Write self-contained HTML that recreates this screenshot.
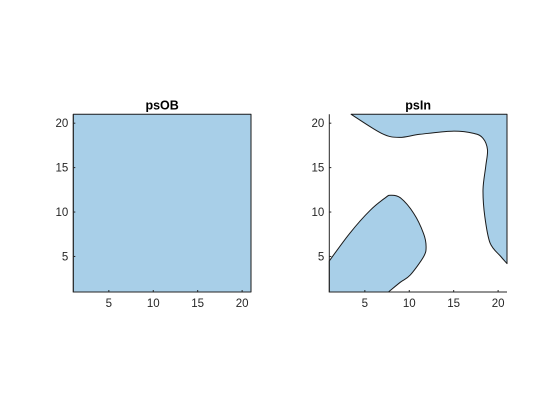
<!DOCTYPE html>
<html><head><meta charset="utf-8"><style>
body{margin:0;background:#fff;}
svg{display:block;font-family:"Liberation Sans",Arial,sans-serif;}
</style></head><body>
<svg id="chart" width="560" height="420"></svg>
<script>
const xTicks=[5,10,15,20];
const yTicks=[5,10,15,20];
const psOBx=[1,21,21,1];
const psOBy=[1,1,21,21];
const topShapeX=[3.45,6.9,8.9,11.2,14.8,17.25,18.3,18.8,18.6,18.3,18.5,19.1,20.3,21,21];
const topShapeY=[21,18.85,18.4,18.75,19.1,18.85,18.3,17,15.1,12.5,9.5,6.5,5,4.2,21];
const botShapeX=[1,3.3,5.6,7.3,7.9,9,10.5,11.6,11.9,11.6,10.1,9,7.65,1];
const botShapeY=[4.5,7.6,10.2,11.6,11.9,11.6,9.85,7.6,6.1,4.95,2.9,2.1,1,1];
const NS='http://www.w3.org/2000/svg';
const svg=document.getElementById('chart');
function mk(t,a,p){const e=document.createElementNS(NS,t);for(const k in a)e.setAttribute(k,a[k]);(p||svg).appendChild(e);return e;}
function axes(x0,x1,y0,y1,title,name){
  const g=mk('g',{});
  
  
  const sx=v=>x0+(v-1)/20*(x1-x0), sy=v=>y1-(v-1)/20*(y1-y0);
  return {g,sx,sy,x0,x1,y0,y1,title};
}
function onEdge(x1,y1,x2,y2){
  return (x1===x2&&(x1===1||x1===21))||(y1===y2&&(y1===1||y1===21));
}
function shape(ax,xs,ys,name){
  const n=xs.length;
  const P=xs.map((v,i)=>[ax.sx(v),ax.sy(ys[i])]);
  let d='M'+P[0][0].toFixed(1)+','+P[0][1].toFixed(1);
  for(let i=0;i<n;i++){
    const j=(i+1)%n;
    if(onEdge(xs[i],ys[i],xs[j],ys[j])){d+='L'+P[j][0].toFixed(1)+','+P[j][1].toFixed(1);continue;}
    const h=(i-1+n)%n,k=(j+1)%n;
    const prevStraight=onEdge(xs[h],ys[h],xs[i],ys[i]);
    const nextStraight=onEdge(xs[j],ys[j],xs[k],ys[k]);
    const p0=prevStraight?P[i]:P[h], p3=nextStraight?P[j]:P[k];
    const c1=[P[i][0]+(P[j][0]-p0[0])/6,P[i][1]+(P[j][1]-p0[1])/6];
    const c2=[P[j][0]-(p3[0]-P[i][0])/6,P[j][1]-(p3[1]-P[i][1])/6];
    d+='C'+c1.map(v=>v.toFixed(1)).join(',')+' '+c2.map(v=>v.toFixed(1)).join(',')+' '+P[j][0].toFixed(1)+','+P[j][1].toFixed(1);
  }
  d+='Z';
  const p=mk('path',{d:d,fill:'#a8cfe8',stroke:'#1a1a1a','stroke-width':1,'stroke-linejoin':'round'},ax.g);
  
  
}
function frame(ax){
  const l=mk('path',{d:`M${ax.x0},${ax.y0}V${ax.y1}H${ax.x1}`,fill:'none',stroke:'#262626','stroke-width':1},ax.g);
  
  
  xTicks.forEach(v=>{
    const x=ax.sx(v);
    mk('line',{x1:x,x2:x,y1:ax.y1,y2:ax.y1-2,stroke:'#262626'},ax.g);
    const t=mk('text',{x:x,y:ax.y1+15,'text-anchor':'middle','font-size':11.5,fill:'#262626'},ax.g);
    t.textContent=v;
    
    
  });
  yTicks.forEach(v=>{
    const y=ax.sy(v);
    mk('line',{x1:ax.x0,x2:ax.x0+2,y1:y,y2:y,stroke:'#262626'},ax.g);
    const t=mk('text',{x:ax.x0-5,y:y+4,'text-anchor':'end','font-size':11.5,fill:'#262626'},ax.g);
    t.textContent=v;
    
    
  });
  const tt=mk('text',{x:(ax.x0+ax.x1)/2,y:ax.y0-5,'text-anchor':'middle','font-size':12.5,'font-weight':'bold',fill:'#000'},ax.g);
  tt.textContent=ax.title;
  
  
}
const a1=axes(73.3,251,114.3,292,'psOB','psOB-axes');
shape(a1,psOBx,psOBy,'psOB-region');
frame(a1);
const a2=axes(329.3,507,114.3,292,'psIn','psIn-axes');
shape(a2,topShapeX,topShapeY,'psIn-top-region');
shape(a2,botShapeX,botShapeY,'psIn-bottom-region');
frame(a2);
</script>
</body></html>
